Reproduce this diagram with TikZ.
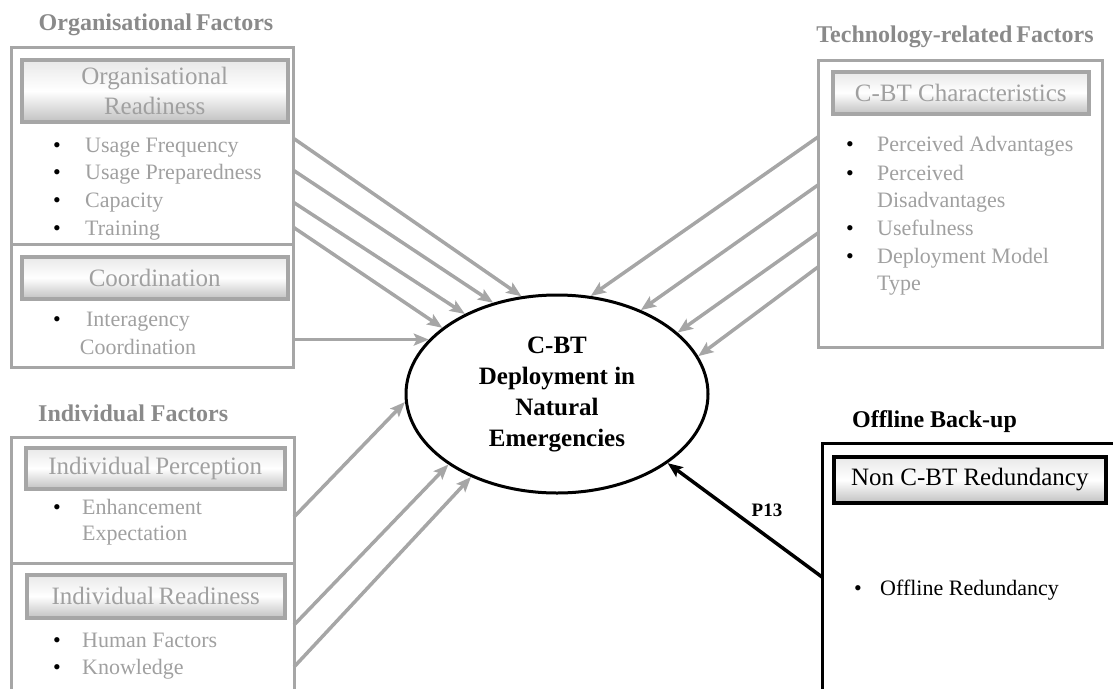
\documentclass[tikz,border=0pt]{standalone}
\usepackage{fontspec}
\setmainfont{Liberation Serif}
\usetikzlibrary{shapes.geometric,arrows.meta}
\definecolor{lgray}{HTML}{A6A6A6}
\definecolor{tgray}{HTML}{A0A0A0}
\definecolor{hgray}{HTML}{8A8A8A}
\tikzset{
  outerbox/.style={draw=lgray, line width=3pt, rectangle, inner sep=0pt, outer sep=0pt, anchor=north west},
  blackbox/.style={draw=black, line width=3pt, rectangle, inner sep=0pt, outer sep=0pt, anchor=north west},
  hdrbox/.style={draw=lgray, line width=3.5pt, rectangle, inner sep=0pt, anchor=north west,
     top color=black!9, bottom color=black!24, middle color=white},
  hdrtext/.style={text=tgray, font=\fontsize{25}{30}\selectfont, align=center, inner sep=0pt},
  item/.style={text=tgray, font=\fontsize{22}{27}\selectfont, anchor=base west, inner sep=0pt},
  bul/.style={text=black, font=\fontsize{22}{27}\selectfont, inner sep=0pt, anchor=base},
  heading/.style={text=hgray, font=\bfseries\fontsize{24}{28}\selectfont, inner sep=0pt},
  garrow/.style={draw=lgray, line width=3.5pt, -{Stealth[length=15pt,width=12pt,inset=3pt]}},
  barrow/.style={draw=black, line width=3.5pt, -{Stealth[length=15pt,width=12pt,inset=3pt]}},
}
\begin{document}
\begin{tikzpicture}[x=1pt,y=-1pt]
\useasboundingbox (0,0) rectangle (1113,688);
% ---------- Organisational factors ----------
\node[heading] (hOrg) at (156,25) {Organisational\,Factors};
\node[outerbox, minimum width=282, minimum height=197] (orgR) at (11,47) {};
\node[outerbox, minimum width=282, minimum height=123] (orgC) at (11,244) {};
\node[hdrbox, minimum width=266, minimum height=62] (hdOR) at (20,58) {};
\node[hdrtext] (tOR) at (hdOR.center) {Organisational\\Readiness};
\node[bul] (bo1) at (57,152) {\textbullet};
\node[item] (io1) at (85,152) {Usage Frequency};
\node[bul] (bo2) at (57,179) {\textbullet};
\node[item] (io2) at (85,179) {Usage Preparedness};
\node[bul] (bo3) at (57,207) {\textbullet};
\node[item] (io3) at (85,207) {Capacity};
\node[bul] (bo4) at (57,235) {\textbullet};
\node[item] (io4) at (85,235) {Training};
\node[hdrbox, minimum width=266, minimum height=42] (hdCo) at (20,255) {};
\node[hdrtext] (tCo) at (hdCo.center) {Coordination};
\node[bul] (bo5) at (57,326) {\textbullet};
\node[item, anchor=base] (io5a) at (138,326) {Interagency};
\node[item, anchor=base] (io5b) at (138,354) {Coordination};
% ---------- Individual factors ----------
\node[heading, anchor=west] (hInd) at (38,413) {Individual Factors};
\node[outerbox, minimum width=283, minimum height=126] (indP) at (11,437) {};
\node[outerbox, minimum width=283, minimum height=140] (indR) at (11,563) {};
\node[hdrbox, minimum width=259, minimum height=41] (hdIP) at (24,446) {};
\node[hdrtext] (tIP) at (hdIP.center) {Individual\,Perception};
\node[bul] (bi1) at (57,514) {\textbullet};
\node[item] (ii1a) at (82,514) {Enhancement};
\node[item] (ii1b) at (82,540) {Expectation};
\node[hdrbox, minimum width=258, minimum height=43] (hdIR) at (25,573) {};
\node[hdrtext] (tIR) at (hdIR.center) {Individual\,Readiness};
\node[bul] (bi2) at (57,647) {\textbullet};
\node[item] (ii2) at (82,647) {Human Factors};
\node[bul] (bi3) at (57,674) {\textbullet};
\node[item] (ii3) at (82,674) {Knowledge};
% ---------- Technology factors ----------
\node[heading] (hTec) at (955,37) {Technology-related\,Factors};
\node[outerbox, minimum width=284, minimum height=287] (tec) at (818,60) {};
\node[hdrbox, minimum width=256, minimum height=42] (hdCB) at (831,70) {};
\node[hdrtext] (tCB) at (hdCB.center) {C-BT Characteristics};
\node[bul] (bt1) at (850,151) {\textbullet};
\node[item] (it1) at (877,151) {Perceived Advantages};
\node[bul] (bt2) at (850,180) {\textbullet};
\node[item] (it2a) at (877,180) {Perceived};
\node[item] (it2b) at (877,207) {Disadvantages};
\node[bul] (bt3) at (850,235) {\textbullet};
\node[item] (it3) at (877,235) {Usefulness};
\node[bul] (bt4) at (850,263) {\textbullet};
\node[item] (it4a) at (877,263) {Deployment Model};
\node[item] (it4b) at (877,290) {Type};
% ---------- Offline back-up ----------
\node[heading, text=black, anchor=west] (hOff) at (852,422) {Offline Back-up};
\node[blackbox, minimum width=300, minimum height=260] (off) at (822,443) {};
\node[hdrbox, draw=black, minimum width=272, minimum height=46] (hdNC) at (832,455) {};
\node[hdrtext, text=black] (tNC) at (hdNC.center) {Non C-BT Redundancy};
\node[bul] (bf1) at (858,595) {\textbullet};
\node[item, text=black] (if1) at (880,595) {Offline Redundancy};
% ---------- Central ellipse ----------
\node[ellipse, draw=black, line width=3pt, minimum width=302, minimum height=198, inner sep=0pt,
      align=center, font=\bfseries\fontsize{25}{31}\selectfont] (ell) at (557,394)
      {C-BT\\Deployment in\\Natural\\Emergencies};
% ---------- Connectors ----------
\draw[garrow] (orgR.east |- 0,138) -- (ell.110);
\draw[garrow] (orgR.east |- 0,170) -- (ell.125);
\draw[garrow] (orgR.east |- 0,202) -- (ell.139);
\draw[garrow] (orgR.east |- 0,227) -- (ell.150);
\draw[garrow] (orgC.east |- ell.157) -- (ell.157);
\draw[garrow] (indP.east |- 0,517) -- (ell.183);
\draw[garrow] (indR.east |- 0,625) -- (ell.213);
\draw[garrow] (indR.east |- 0,667) -- (ell.224);
\draw[garrow] (tec.west |- 0,137) -- (ell.71);
\draw[garrow] (tec.west |- 0,185) -- (ell.45);
\draw[garrow] (tec.west |- 0,233) -- (ell.27);
\draw[garrow] (tec.west |- 0,267) -- (ell.15);
\draw[barrow] (off.west |- 0,577) -- (ell.328);
\node[font=\bfseries\fontsize{19}{22}\selectfont, inner sep=0pt] (p13) at (767,510) {P13};
\end{tikzpicture}
\end{document}
